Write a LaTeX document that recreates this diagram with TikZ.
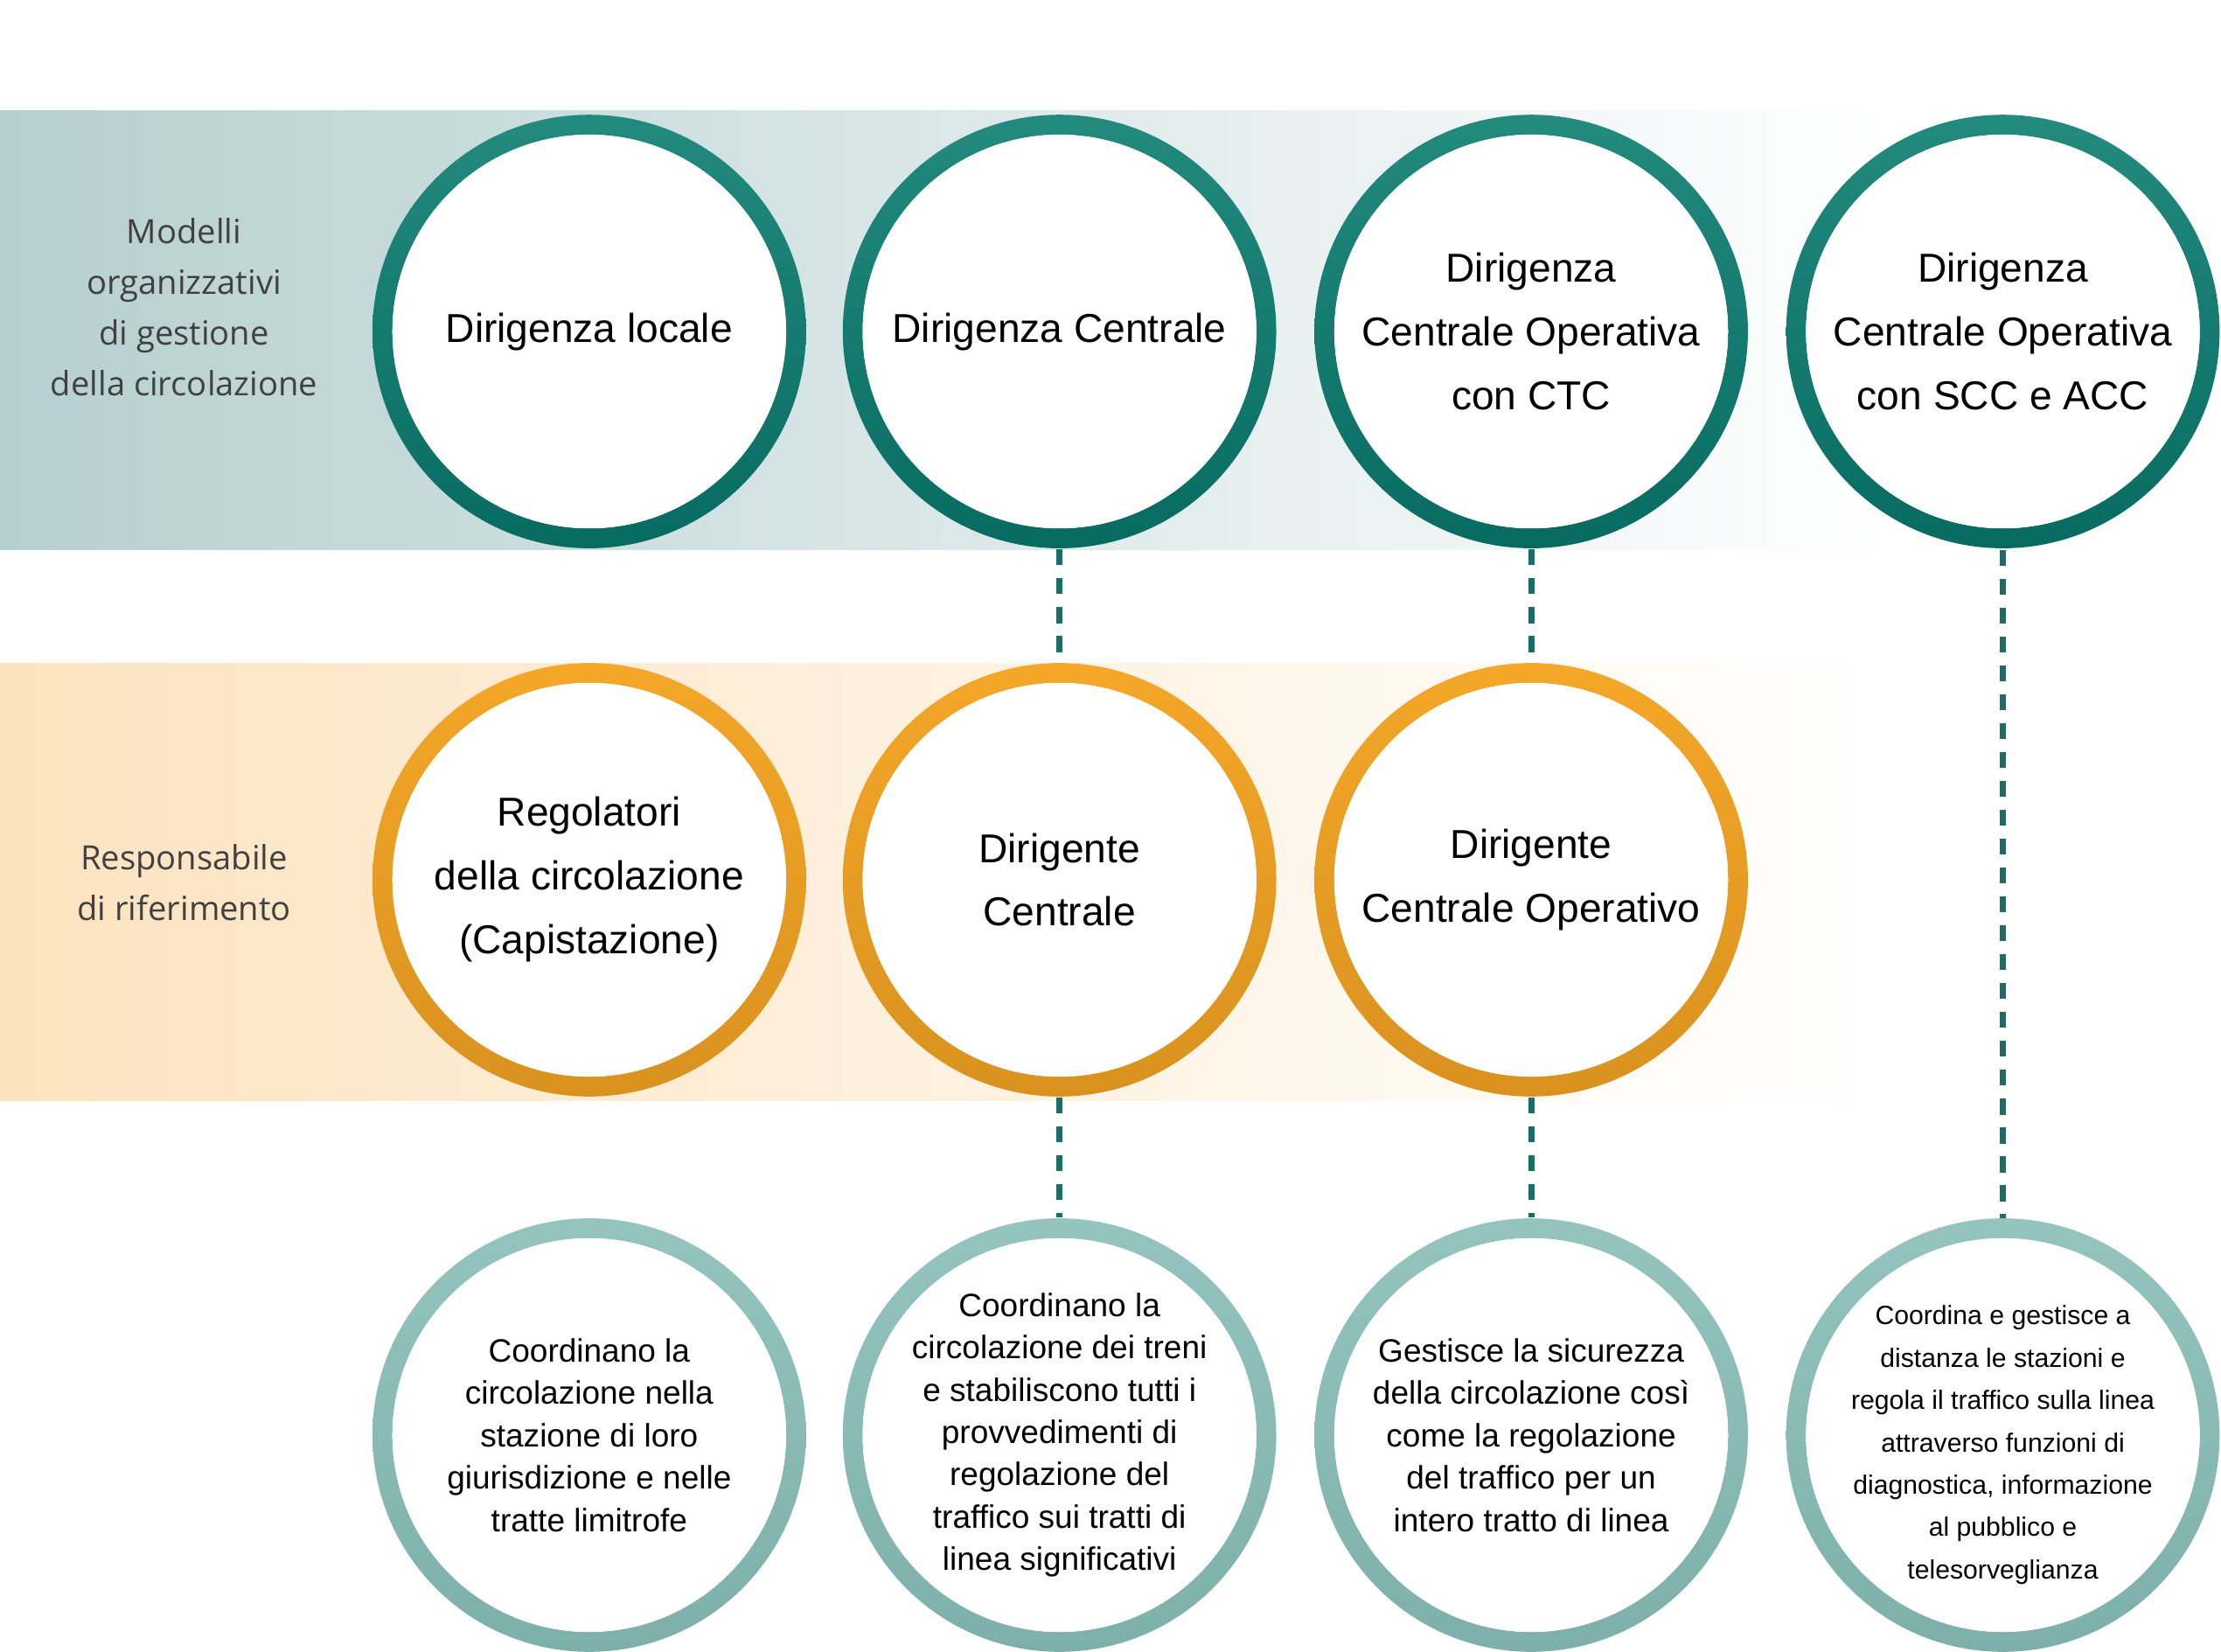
\documentclass[tikz,border=0pt]{standalone}
\usepackage{fontspec}
\setmainfont{Liberation Sans}
\newfontfamily\lab{Open Sans}
\begin{document}
\begin{tikzpicture}[x=0.01cm,y=-0.01cm,
  circ/.style={circle,minimum size=3.06cm,inner sep=0pt,align=center,font=\fontsize{8.1}{12.8}\selectfont},
  small/.style={circ,font=\fontsize{6.5}{8.5}\selectfont},
  tiny/.style={circ,font=\fontsize{5.3}{8.5}\selectfont},
  lbl/.style={align=center,text=black!75,font=\lab\fontsize{6.7}{10.2}\selectfont},
  conn/.style={draw=lnk,line width=1.2pt,dash pattern=on 3.2pt off 2.6pt}]
\definecolor{tA}{HTML}{238A7E}\definecolor{tB}{HTML}{076B62}
\definecolor{oA}{HTML}{F4A728}\definecolor{oB}{HTML}{D9921F}
\definecolor{lA}{HTML}{95C4BF}\definecolor{lB}{HTML}{7DB0AA}
\definecolor{bandT}{HTML}{B6CFD0}\definecolor{bandO}{HTML}{FCE3BF}
\definecolor{lnk}{HTML}{1A6E63}
\useasboundingbox (0,0) rectangle (1568,1166);
\shade[left color=bandT,right color=white] (0,78) rectangle (1330,388);
\shade[left color=bandO,right color=white] (0,468) rectangle (1330,777);
\newcommand\ring[4]{\shade[top color=#3,bottom color=#4,even odd rule] (#1,#2) circle[radius=153] (#1,#2) circle[radius=139];
  \fill[white] (#1,#2) circle[radius=139];}
\foreach \x in {416,748,1081,1414}{\ring{\x}{234}{tA}{tB}}
\foreach \x in {416,748,1081}{\ring{\x}{621}{oA}{oB}}
\foreach \x in {416,748,1081,1414}{\ring{\x}{1013}{lA}{lB}}
\node[circ] (a1) at (416,234) {Dirigenza locale};
\node[circ] (a2) at (748,234) {Dirigenza Centrale};
\node[circ] (a3) at (1081,234) {Dirigenza\\Centrale Operativa\\con CTC};
\node[circ] (a4) at (1414,234) {Dirigenza\\Centrale Operativa\\con SCC e ACC};
\node[circ] (b1) at (416,621) {Regolatori\\della circolazione\\(Capistazione)};
\node[circ] (b2) at (748,621) {Dirigente\\Centrale};
\node[circ] (b3) at (1081,621) {Dirigente\\Centrale Operativo};
\node[small] (c1) at (416,1013) {Coordinano la\\circolazione nella\\stazione di loro\\giurisdizione e nelle\\tratte limitrofe};
\node[small] (c2) at (748,1013) {Coordinano la\\circolazione dei treni\\e stabiliscono tutti i\\provvedimenti di\\regolazione del\\traffico sui tratti di\\linea significativi};
\node[small] (c3) at (1081,1013) {Gestisce la sicurezza\\della circolazione così\\come la regolazione\\del traffico per un\\intero tratto di linea};
\node[tiny] (c4) at (1414,1020) {Coordina e gestisce a\\distanza le stazioni e\\regola il traffico sulla linea\\attraverso funzioni di\\diagnostica, informazione\\al pubblico e\\telesorveglianza};
\node[lbl] (l1) at (130,217) {Modelli\\organizzativi\\di gestione\\della circolazione};
\node[lbl] (l2) at (130,623) {Responsabile\\di riferimento};
\draw[conn] (a2.south) -- (b2.north);
\draw[conn] (a3.south) -- (b3.north);
\draw[conn] (b2.south) -- (c2.north);
\draw[conn] (b3.south) -- (c3.north);
\draw[conn] (1414,388) -- (1414,860);
\end{tikzpicture}
\end{document}
